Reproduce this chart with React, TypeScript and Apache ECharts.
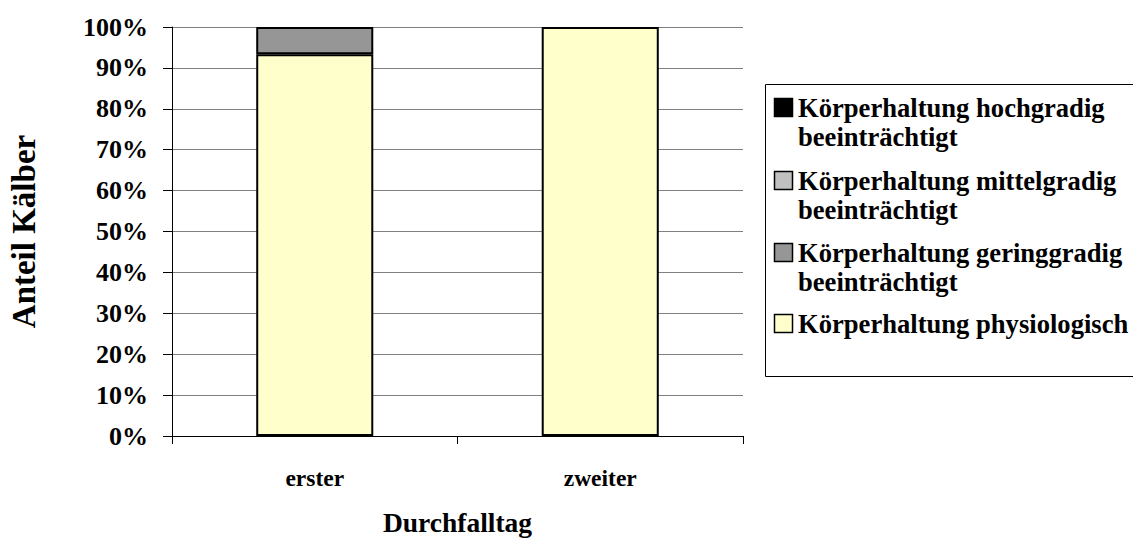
import React, { useEffect, useRef } from "react";
import * as echarts from "echarts";

const categories = ["erster", "zweiter"];
const physiologisch = [93.33, 100];
const geringgradig = [6.67, 0];
const mittelgradig = [0, 0];
const hochgradig = [0, 0];
const seriesNames = [
  "Körperhaltung physiologisch",
  "Körperhaltung geringgradig beeinträchtigt",
  "Körperhaltung mittelgradig beeinträchtigt",
  "Körperhaltung hochgradig beeinträchtigt",
];
const seriesColors = ["#FFFFCC", "#969696", "#C0C0C0", "#000000"];
const legendLines = [
  ["Körperhaltung hochgradig", "beeinträchtigt"],
  ["Körperhaltung mittelgradig", "beeinträchtigt"],
  ["Körperhaltung geringgradig", "beeinträchtigt"],
  ["Körperhaltung physiologisch"],
];
const legendColors = ["#000000", "#C0C0C0", "#969696", "#FFFFCC"];
const legendTops = [93, 166, 238, 309];

const FONT = '"Liberation Serif", "Times New Roman", serif';

export default function App() {
  const ref = useRef<HTMLDivElement>(null);
  useEffect(() => {
    if (!ref.current) return;
    const chart = echarts.init(ref.current, null, { renderer: "svg" });
    const values = [physiologisch, geringgradig, mittelgradig, hochgradig];
    const graphics: any[] = [
      {
        type: "rect",
        shape: { x: 765.5, y: 84.5, width: 380, height: 292 },
        style: { fill: "#fff", stroke: "#000", lineWidth: 1 },
        z: 0,
      },
    ];
    legendLines.forEach((lines, i) => {
      graphics.push({
        type: "rect",
        shape: { x: 774.5, y: legendTops[i] + 5.5, width: 18, height: 18 },
        style: { fill: legendColors[i], stroke: "#000", lineWidth: 1.5 },
        z: 2,
      });
      graphics.push({
        type: "text",
        x: 798,
        y: legendTops[i],
        style: {
          text: lines.join("\n"),
          font: `bold 26.6px ${FONT}`,
          lineHeight: 29,
          fill: "#000",
          verticalAlign: "top",
          align: "left",
        },
        z: 2,
      });
    });
    chart.setOption({
      animation: false,
      textStyle: { fontFamily: FONT },
      grid: { left: 172, right: 390, top: 27, bottom: 103, outerBoundsMode: "none", containLabel: false },
      xAxis: {
        type: "category",
        data: categories,
        axisLine: { lineStyle: { color: "#000", width: 1 } },
        axisTick: { show: true, length: 8, lineStyle: { color: "#000" } },
        axisLabel: {
          margin: 30,
          fontSize: 23.5,
          fontWeight: "bold",
          color: "#000",
          fontFamily: FONT,
        },
        name: "Durchfalltag",
        nameLocation: "middle",
        nameGap: 72,
        nameTextStyle: { fontSize: 27.5, fontWeight: "bold", color: "#000", fontFamily: FONT },
      },
      yAxis: {
        type: "value",
        min: 0,
        max: 100,
        interval: 10,
        axisLine: { show: true, lineStyle: { color: "#000", width: 1 } },
        axisTick: { show: true, length: 9, lineStyle: { color: "#000" } },
        splitLine: { show: true, lineStyle: { color: "#808080", width: 1 } },
        axisLabel: {
          formatter: "{value}%",
          margin: 24,
          fontSize: 26,
          fontWeight: "bold",
          color: "#000",
          fontFamily: FONT,
        },
        name: "Anteil Kälber",
        nameLocation: "middle",
        nameGap: 132,
        nameTextStyle: { fontSize: 33, fontWeight: "bold", color: "#000", fontFamily: FONT },
      },
      series: values.map((v, i) => ({
        type: "bar",
        name: seriesNames[i],
        stack: "total",
        barWidth: "41%",
        data: v.map((x) => (x === 0 ? "-" : x)),
        itemStyle: { color: seriesColors[i], borderColor: "#000", borderWidth: 2 },
      })),
      graphic: graphics,
    });
    return () => chart.dispose();
  }, []);
  return (
    <div
      ref={ref}
      style={{ position: "fixed", left: 0, top: 0, width: 1133, height: 539, background: "#fff" }}
    />
  );
}
